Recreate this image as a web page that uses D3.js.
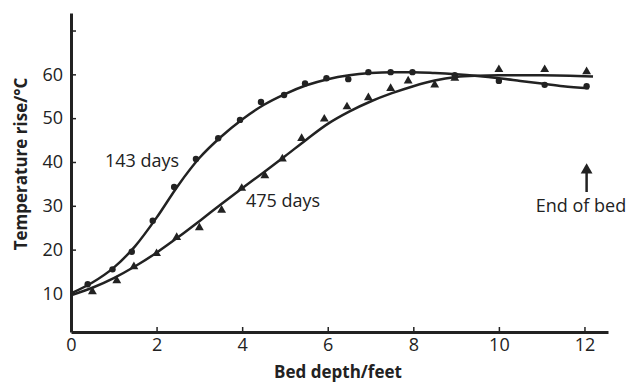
<!DOCTYPE html>
<html>
<head>
<meta charset="utf-8">
<script src="https://cdn.jsdelivr.net/npm/d3@7"></script>
<style>
  body { margin: 0; background: #fff; }
  text { font-family: "Open Sans", sans-serif; fill: #222; }
</style>
</head>
<body>
<div id="chart-area"></div>
<script>
// measured points, 143 days (dots)
const depth143 = [0.39, 0.97, 1.42, 1.91, 2.41, 2.92, 3.44, 3.95, 4.44, 4.98, 5.47, 5.97, 6.48, 6.95, 7.47, 7.98, 8.97, 10.0, 11.07, 12.05]
const temp143 = [12.1, 15.5, 19.5, 26.6, 34.3, 40.7, 45.4, 49.6, 53.7, 55.3, 57.9, 59.1, 58.9, 60.5, 60.5, 60.5, 59.8, 58.5, 57.6, 57.3]

// measured points, 475 days (triangles)
const depth475 = [0.5, 1.07, 1.47, 2.0, 2.47, 3.0, 3.52, 3.99, 4.53, 4.94, 5.39, 5.92, 6.45, 6.95, 7.47, 7.88, 8.5, 8.97, 10.0, 11.07, 12.05]
const temp475 = [10.4, 12.9, 16.1, 19.1, 22.8, 25.0, 29.0, 34.0, 36.9, 40.7, 45.4, 49.8, 52.6, 54.7, 56.8, 58.5, 57.6, 59.1, 61.1, 61.1, 60.6]

// fitted curves
const fitDepth143 = [0, 0.5, 1, 1.5, 2, 2.5, 3, 3.5, 4, 4.5, 5, 5.5, 6, 6.5, 7, 7.5, 8, 8.5, 9, 9.5, 10, 10.5, 11, 11.5, 12.1]
const fitTemp143 = [10, 12.5, 15.9, 20.8, 27.3, 34.6, 40.9, 45.7, 49.7, 53.0, 55.5, 57.5, 58.9, 59.8, 60.3, 60.5, 60.5, 60.3, 60, 59.6, 59.1, 58.5, 57.9, 57.3, 56.8]
const fitDepth475 = [0, 0.5, 1, 1.5, 2, 2.5, 3, 3.5, 4, 4.5, 5, 5.5, 6, 6.5, 7, 7.5, 8, 8.5, 9, 9.5, 10, 11, 12.2]
const fitTemp475 = [9.6, 11.3, 13.5, 16.2, 19.3, 22.8, 26.5, 30.3, 34.0, 37.6, 41.3, 45.1, 48.7, 51.5, 53.8, 55.7, 57.3, 58.6, 59.4, 59.7, 59.8, 59.8, 59.5]

const xTicks = [0, 2, 4, 6, 8, 10, 12]
const yTicks = [10, 20, 30, 40, 50, 60, 70]
const yTickLabels = ["10", "20", "30", "40", "50", "60", ""]

const W = 630, H = 383
const INK = "#222"

const svg = d3.select("#chart-area").append("svg")
    .attr("width", W)
    .attr("height", H)

// Scales
const x = d3.scaleLinear()
    .domain([0, 12.55])
    .range([71, 608])

const y = d3.scaleLinear()
    .domain([1.2, 74])
    .range([332, 13])

// X Axis
const xAxisCall = d3.axisBottom(x)
    .tickValues(xTicks)
    .tickSizeInner(-5)
    .tickSizeOuter(0)
    .tickPadding(6)
    .tickFormat(d3.format("d"))
svg.append("g")
    .attr("transform", `translate(0, ${y.range()[0]})`)
    .call(xAxisCall)

// Y Axis
const yAxisCall = d3.axisLeft(y)
    .tickValues(yTicks)
    .tickSizeInner(-5)
    .tickSizeOuter(0)
    .tickPadding(8)
    .tickFormat((d, i) => yTickLabels[i])
svg.append("g")
    .attr("transform", `translate(${x.range()[0]}, 0)`)
    .call(yAxisCall)

svg.selectAll(".domain").attr("stroke", INK).attr("stroke-width", 3)
svg.selectAll(".tick line").attr("stroke", INK).attr("stroke-width", 1.5)
svg.selectAll(".tick text")
    .attr("font-size", "18px")
    .attr("font-family", "Open Sans, sans-serif")
    .attr("fill", INK)

// Labels
svg.append("text")
    .attr("x", 338)
    .attr("y", 378)
    .attr("font-size", "17px")
    .attr("font-weight", "bold")
    .attr("text-anchor", "middle")
    .text("Bed depth/feet")
svg.append("text")
    .attr("transform", "translate(27, 164) rotate(-90)")
    .attr("font-size", "17px")
    .attr("font-weight", "bold")
    .attr("text-anchor", "middle")
    .text("Temperature rise/°C")

// Fitted lines
const line = d3.line()
    .x(d => x(d[0]))
    .y(d => y(d[1]))
    .curve(d3.curveMonotoneX)

svg.append("path")
    .datum(d3.zip(fitDepth143, fitTemp143))
    .attr("d", line)
    .attr("fill", "none")
    .attr("stroke", INK)
    .attr("stroke-width", 2.5)

svg.append("path")
    .datum(d3.zip(fitDepth475, fitTemp475))
    .attr("d", line)
    .attr("fill", "none")
    .attr("stroke", INK)
    .attr("stroke-width", 2.5)

// Datapoints
svg.selectAll("dot143")
    .data(d3.zip(depth143, temp143))
    .enter().append("circle")
    .attr("cx", d => x(d[0]))
    .attr("cy", d => y(d[1]))
    .attr("r", 3.2)
    .attr("fill", INK)

const tri = d3.symbol().type(d3.symbolTriangle).size(34)
svg.selectAll("tri475")
    .data(d3.zip(depth475, temp475))
    .enter().append("path")
    .attr("d", tri)
    .attr("transform", d => `translate(${x(d[0])}, ${y(d[1])})`)
    .attr("fill", INK)

// Annotations
svg.append("text")
    .attr("x", 105)
    .attr("y", 167)
    .attr("font-size", "18px")
    .text("143 days")
svg.append("text")
    .attr("x", 246)
    .attr("y", 207)
    .attr("font-size", "18px")
    .text("475 days")

const arrowX = x(12.05)
svg.append("line")
    .attr("x1", arrowX).attr("x2", arrowX)
    .attr("y1", 192).attr("y2", 172)
    .attr("stroke", INK)
    .attr("stroke-width", 2.5)
svg.append("path")
    .attr("d", d3.symbol().type(d3.symbolTriangle).size(60))
    .attr("transform", `translate(${arrowX}, 170)`)
    .attr("fill", INK)
svg.append("text")
    .attr("x", 581)
    .attr("y", 212)
    .attr("font-size", "18px")
    .attr("text-anchor", "middle")
    .text("End of bed")
</script>
</body>
</html>
